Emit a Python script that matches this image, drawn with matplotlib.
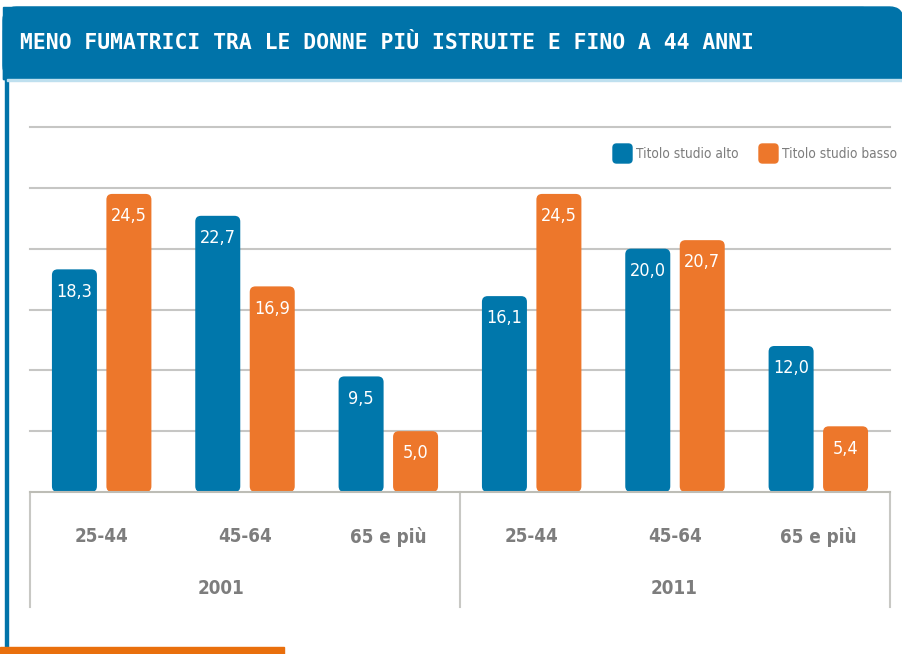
import matplotlib
matplotlib.use("Agg")
import matplotlib.pyplot as plt
from matplotlib.patches import FancyBboxPatch, Rectangle
from matplotlib.transforms import blended_transform_factory

# data
years = ['2001', '2011']
year_pos = [1.33, 4.49]
ages = ['25-44', '45-64', '65 e più']
alto = [18.3, 22.7, 9.5, 16.1, 20.0, 12.0]
basso = [24.5, 16.9, 5.0, 24.5, 20.7, 5.4]
series_names = ['Titolo studio alto', 'Titolo studio basso']

BLUE = '#0077ab'
ORANGE = '#ed772b'
GRAY = '#7d7d7d'
GRID = '#c6c6c4'
NARROW = dict(family='DejaVu Sans', stretch='condensed')

W, H = 903, 654
fig = plt.figure(figsize=(W / 100, H / 100), dpi=100)


def fx(px):
    return px / W


def fy(py):
    return 1 - py / H


# header banner with rounded top-right corner
fig.patches.append(FancyBboxPatch((fx(3), fy(79)), fx(900), fy(7) - fy(79),
                                  boxstyle='round,pad=0,rounding_size=0.015',
                                  mutation_aspect=W / H,
                                  transform=fig.transFigure, color='#0073a9', zorder=0))
fig.patches.append(Rectangle((fx(3), fy(79)), fx(860), fy(7) - fy(79),
                             transform=fig.transFigure, color='#0073a9', zorder=0))
fig.patches.append(Rectangle((fx(3), fy(79)), fx(900), fy(30) - fy(79),
                             transform=fig.transFigure, color='#0073a9', zorder=0))
fig.patches.append(Rectangle((fx(5), fy(654)), fx(2.5), fy(79) - fy(654),
                             transform=fig.transFigure, color='#0073a9', zorder=0))
fig.patches.append(Rectangle((fx(7), fy(81)), fx(896), fy(79) - fy(81),
                             transform=fig.transFigure, color='#bfe0ef', zorder=0))
fig.patches.append(Rectangle((fx(0), fy(654)), fx(284), fy(647) - fy(654),
                             transform=fig.transFigure, color='#e96f0d', zorder=0))
fig.text(fx(20), fy(43), 'MENO FUMATRICI TRA LE DONNE PIÙ ISTRUITE E FINO A 44 ANNI',
         family='DejaVu Sans Mono', weight='bold', fontsize=15.4, color='white',
         va='center', ha='left')

# plot area
ax = fig.add_axes([fx(30), fy(492), fx(860), (492 - 127) / H])
ax.set_xlim(0, 6)
ax.set_ylim(0, 30)
for s in ax.spines.values():
    s.set_visible(False)
ax.set_xticks([])
ax.set_yticks([])
for g in range(5, 31, 5):
    ax.axhline(g, color=GRID, lw=1.5, zorder=1, clip_on=False)
ax.axhline(0, color='#bdbdb6', lw=1.5, zorder=5, clip_on=False)

# rounded bars
bw = 0.314
off = 0.19
aspect = (30 / 365) / (6 / 860)
n = len(years) * len(ages)
for i in range(n):
    xc = i + 0.5
    for val, col, dx in ((alto[i], BLUE, -off), (basso[i], ORANGE, off)):
        ax.add_patch(FancyBboxPatch((xc + dx - bw / 2, 0), bw, val,
                                    boxstyle='round,pad=0,rounding_size=0.04',
                                    mutation_aspect=aspect,
                                    fc=col, ec='none', zorder=3))
        ax.annotate(f'{val:.1f}'.replace('.', ','), (xc + dx, val),
                    xytext=(0, -16), textcoords='offset points',
                    ha='center', va='center', color='white', fontsize=13,
                    zorder=4, **NARROW)

# two-level category axis
tr = blended_transform_factory(ax.transData, ax.transAxes)
for xs in (0, 3, 6):
    ax.plot([xs, xs], [0, -115 / 365], transform=tr, color='#c8c8c4',
            lw=1.5, clip_on=False)
for gi, yr in enumerate(years):
    for ci, ag in enumerate(ages):
        ax.text(gi * 3 + ci + 0.5, -45 / 365, ag, transform=tr, ha='center',
                va='center', fontsize=13.5, weight='bold', color=GRAY, **NARROW)
    ax.text(year_pos[gi], -96 / 365, yr, transform=tr, ha='center',
            va='center', fontsize=13.5, weight='bold', color=GRAY, **NARROW)

# legend
for (x0, name, col) in ((613, series_names[0], BLUE), (759, series_names[1], ORANGE)):
    fig.patches.append(FancyBboxPatch((fx(x0), fy(163)), fx(19), fy(144) - fy(163),
                                      boxstyle='round,pad=0,rounding_size=0.004',
                                      mutation_aspect=W / H,
                                      transform=fig.transFigure, color=col, zorder=2))
    fig.text(fx(x0 + 23), fy(154), name, fontsize=9.8, color=GRAY,
             va='center', ha='left', **NARROW)

fig.savefig('out.png', dpi=100, facecolor='white')
